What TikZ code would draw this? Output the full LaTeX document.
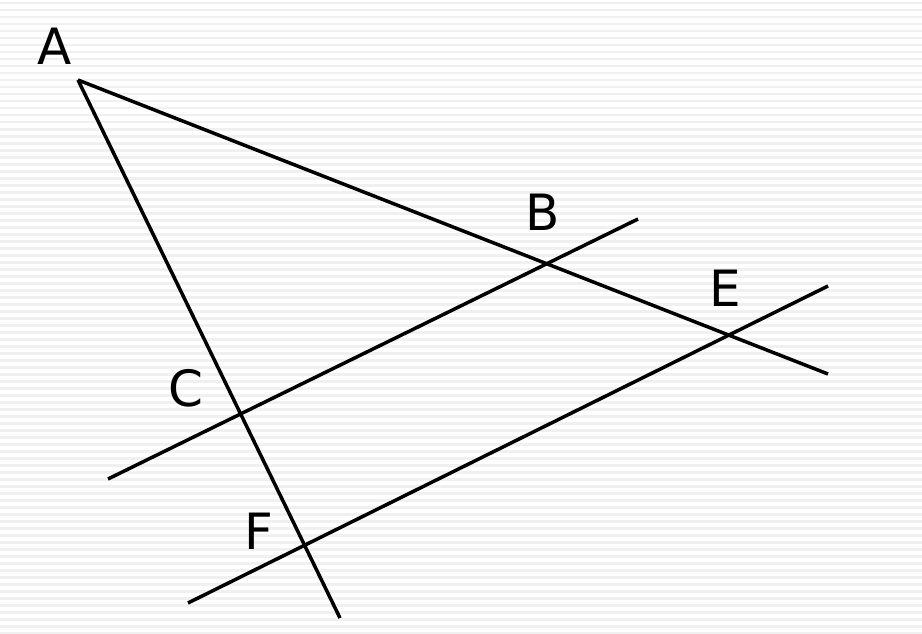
\documentclass[tikz,border=0pt]{standalone}
\usepackage{fontspec}
\setmainfont{DejaVu Sans}
\begin{document}
\begin{tikzpicture}[x=1pt,y=-1pt,
  ln/.style={line width=3.5pt,black},
  lbl/.style={font=\fontsize{50}{60}\selectfont,inner sep=0pt}]
\useasboundingbox (0,0) rectangle (922,634);
\fill[white] (0,0) rectangle (922,634);
\foreach \k in {0,...,90} {
  \fill[black!6] (0,{\k*7+2}) rectangle (922,{\k*7+4.5});
}
\coordinate (A) at (78,80);
\coordinate (A2) at (340,618);
\coordinate (A3) at (828,374);
\coordinate (P1) at (108,479);
\coordinate (P2) at (638,219);
\coordinate (Q1) at (188,603);
\coordinate (Q2) at (828,286);
\draw[ln] (A) -- (A2);
\draw[ln] (A) -- (A3);
\draw[ln] (P1) -- (P2);
\draw[ln] (Q1) -- (Q2);
\node[lbl] (la) at (55,46) {A};
\node[lbl] (lb) at (543,212) {B};
\node[lbl] (lc) at (186,388) {C};
\node[lbl] (le) at (725,288) {E};
\node[lbl] (lf) at (259,531) {F};
\end{tikzpicture}
\end{document}
